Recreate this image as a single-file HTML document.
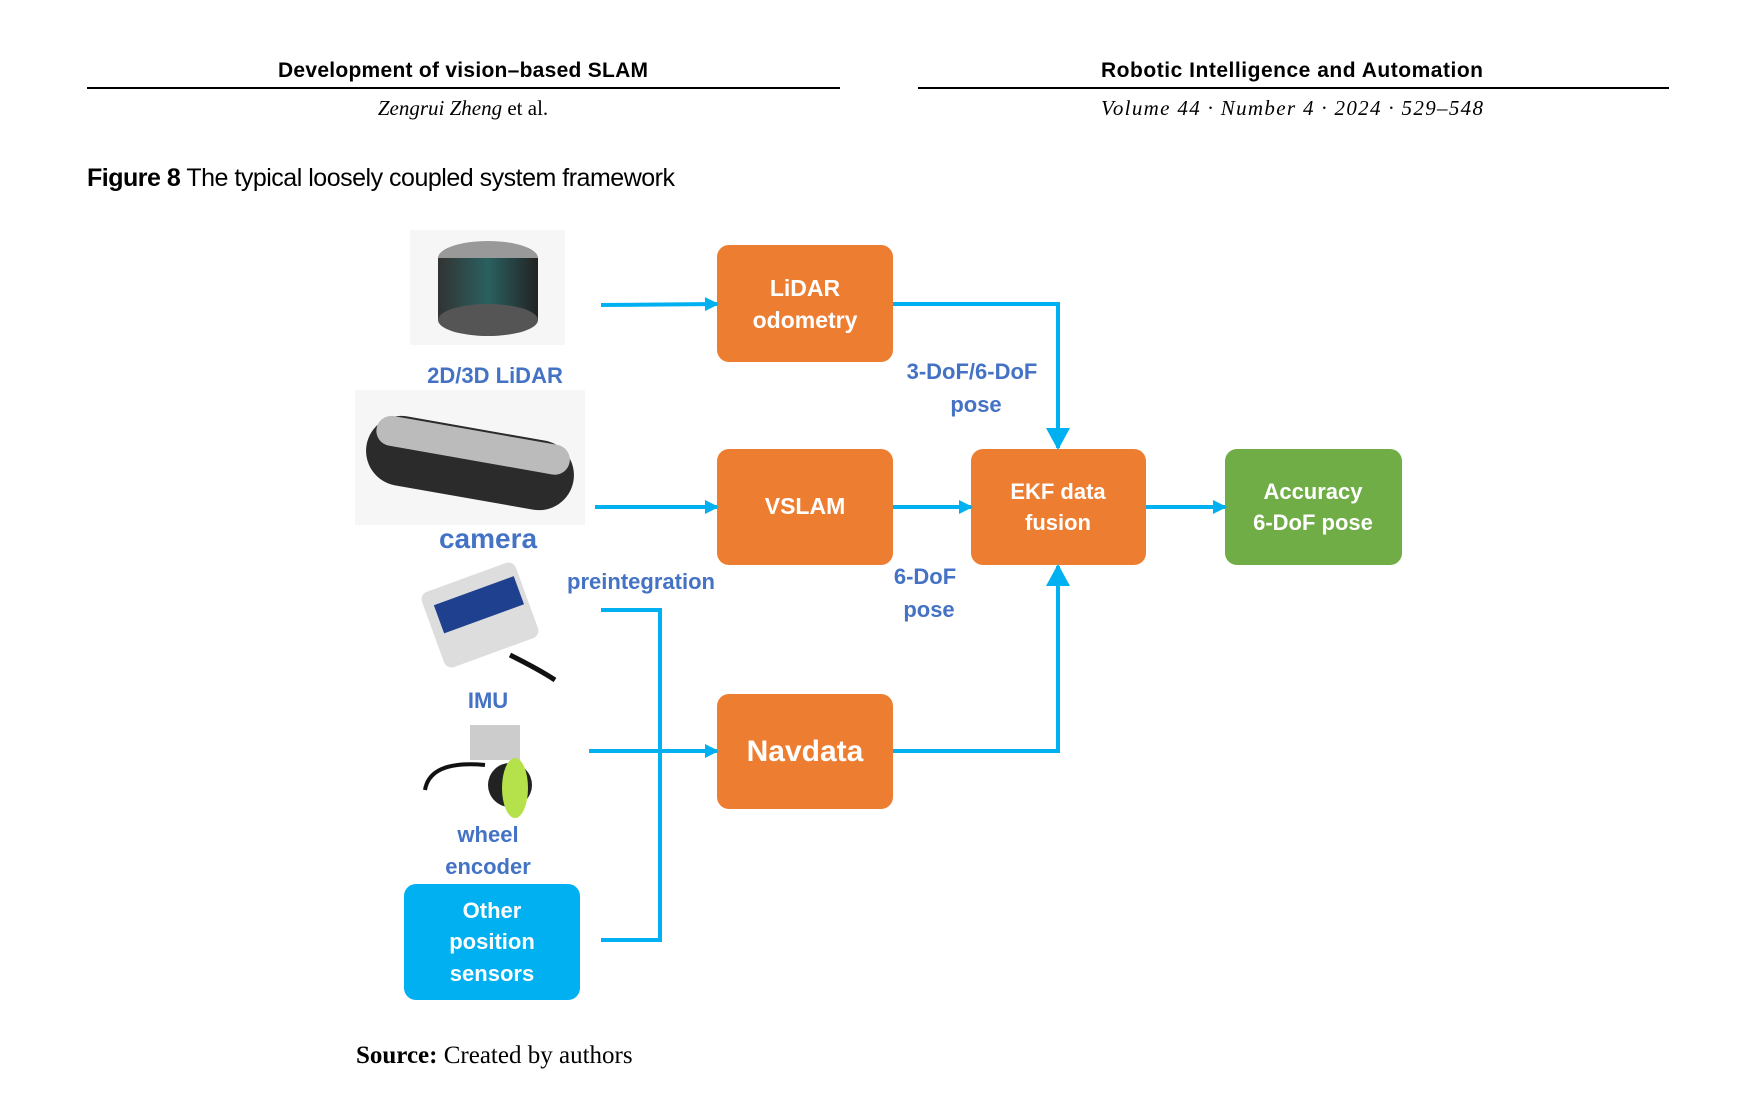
<!DOCTYPE html>
<html><head><meta charset="utf-8"><style>
body{margin:0;background:#fff;}
svg{display:block}
</style></head><body>
<svg width="1740" height="1098" viewBox="0 0 1740 1098" xmlns="http://www.w3.org/2000/svg">
<defs>
<marker id="ah" markerWidth="14" markerHeight="14" refX="12" refY="7" orient="auto" markerUnits="userSpaceOnUse">
<path d="M0,0 L14,7 L0,14 Z" fill="#00B0F0"/></marker>
<marker id="ahb" markerWidth="24" markerHeight="24" refX="20" refY="12" orient="auto" markerUnits="userSpaceOnUse">
<path d="M0,0 L22,12 L0,24 Z" fill="#00B0F0"/></marker>
<linearGradient id="cyl" x1="0" x2="1"><stop offset="0" stop-color="#333"/><stop offset=".5" stop-color="#2a6060"/><stop offset="1" stop-color="#222"/></linearGradient>
</defs>
<g font-family="Liberation Sans, sans-serif">
<text x="463" y="77" text-anchor="middle" font-size="21" font-weight="bold" textLength="370">Development of vision–based SLAM</text>
<line x1="87" y1="88" x2="840" y2="88" stroke="#000" stroke-width="2"/>
<text x="1292" y="77" text-anchor="middle" font-size="21" font-weight="bold" textLength="382">Robotic Intelligence and Automation</text>
<line x1="918" y1="88" x2="1669" y2="88" stroke="#000" stroke-width="2"/>
<text x="463" y="115" text-anchor="middle" font-size="21" font-family="Liberation Serif, serif"><tspan font-style="italic">Zengrui Zheng</tspan> et al.</text>
<text x="1292" y="115" text-anchor="middle" font-size="21" font-style="italic" font-family="Liberation Serif, serif" textLength="382">Volume 44 · Number 4 · 2024 · 529–548</text>
<text x="87" y="186" font-size="25" textLength="588"><tspan font-weight="bold">Figure 8</tspan>  The typical loosely coupled system framework</text>
<text x="356" y="1063" font-size="25" font-family="Liberation Serif, serif"><tspan font-weight="bold">Source:</tspan> Created by authors</text>

<!-- device icons -->
<rect x="410" y="230" width="155" height="115" fill="#f6f6f6"/>
<ellipse cx="488" cy="258" rx="50" ry="17" fill="#999"/>
<rect x="438" y="258" width="100" height="62" fill="url(#cyl)"/>
<ellipse cx="488" cy="320" rx="50" ry="16" fill="#555"/>
<rect x="355" y="390" width="230" height="135" fill="#f6f6f6"/>
<rect x="365" y="428" width="210" height="70" rx="35" fill="#2b2b2b" transform="rotate(10 470 463)"/>
<rect x="372" y="430" width="196" height="30" rx="15" fill="#bbb" transform="rotate(10 470 463)"/>
<rect x="430" y="575" width="100" height="80" rx="8" fill="#ddd" transform="rotate(-20 480 615)"/>
<rect x="440" y="590" width="85" height="30" fill="#1f3f8f" transform="rotate(-20 480 615)"/>
<path d="M510 655 Q540 670 555 680" stroke="#111" stroke-width="5" fill="none"/>
<rect x="470" y="725" width="50" height="35" fill="#ccc"/>
<circle cx="510" cy="785" r="22" fill="#222"/>
<ellipse cx="515" cy="788" rx="13" ry="30" fill="#b5e14a"/>
<path d="M485 765 Q430 760 425 790" stroke="#111" stroke-width="4" fill="none"/>

<!-- boxes -->
<g font-weight="bold" fill="#fff" text-anchor="middle">
<rect x="717" y="245" width="176" height="117" rx="12" fill="#ED7D31"/>
<text x="805" y="296" font-size="23" fill="#fff">LiDAR</text>
<text x="805" y="328" font-size="23" fill="#fff">odometry</text>
<rect x="717" y="449" width="176" height="116" rx="12" fill="#ED7D31"/>
<text x="805" y="514" font-size="23" fill="#fff">VSLAM</text>
<rect x="971" y="449" width="175" height="116" rx="12" fill="#ED7D31"/>
<text x="1058" y="499" font-size="22" fill="#fff">EKF data</text>
<text x="1058" y="530" font-size="22" fill="#fff">fusion</text>
<rect x="1225" y="449" width="177" height="116" rx="12" fill="#70AD47"/>
<text x="1313" y="499" font-size="22" fill="#fff">Accuracy</text>
<text x="1313" y="530" font-size="22" fill="#fff">6-DoF pose</text>
<rect x="717" y="694" width="176" height="115" rx="12" fill="#ED7D31"/>
<text x="805" y="761" font-size="30" fill="#fff">Navdata</text>
<rect x="404" y="884" width="176" height="116" rx="12" fill="#00B0F0"/>
<text x="492" y="918" font-size="22" fill="#fff">Other</text>
<text x="492" y="949" font-size="22" fill="#fff">position</text>
<text x="492" y="981" font-size="22" fill="#fff">sensors</text>
</g>

<!-- labels -->
<g font-weight="bold" fill="#4472C4" text-anchor="middle" font-size="22">
<text x="495" y="383">2D/3D LiDAR</text>
<text x="488" y="548" font-size="28">camera</text>
<text x="488" y="708">IMU</text>
<text x="488" y="842">wheel</text>
<text x="488" y="874">encoder</text>
<text x="641" y="589">preintegration</text>
<text x="972" y="379">3-DoF/6-DoF</text>
<text x="976" y="412">pose</text>
<text x="925" y="584">6-DoF</text>
<text x="929" y="617">pose</text>
</g>

<!-- connectors -->
<g stroke="#00B0F0" stroke-width="4" fill="none">
<line x1="601" y1="305" x2="717" y2="304" marker-end="url(#ah)"/>
<line x1="595" y1="507" x2="717" y2="507" marker-end="url(#ah)"/>
<line x1="589" y1="751" x2="717" y2="751" marker-end="url(#ah)"/>
<line x1="893" y1="507" x2="971" y2="507" marker-end="url(#ah)"/>
<line x1="1146" y1="507" x2="1225" y2="507" marker-end="url(#ah)"/>
<polyline points="893,304 1058,304 1058,448" marker-end="url(#ahb)"/>
<polyline points="893,751 1058,751 1058,566" marker-end="url(#ahb)"/>
<polyline points="601,610 660,610 660,940 601,940"/>
</g>
</g>
</svg>
</body></html>
